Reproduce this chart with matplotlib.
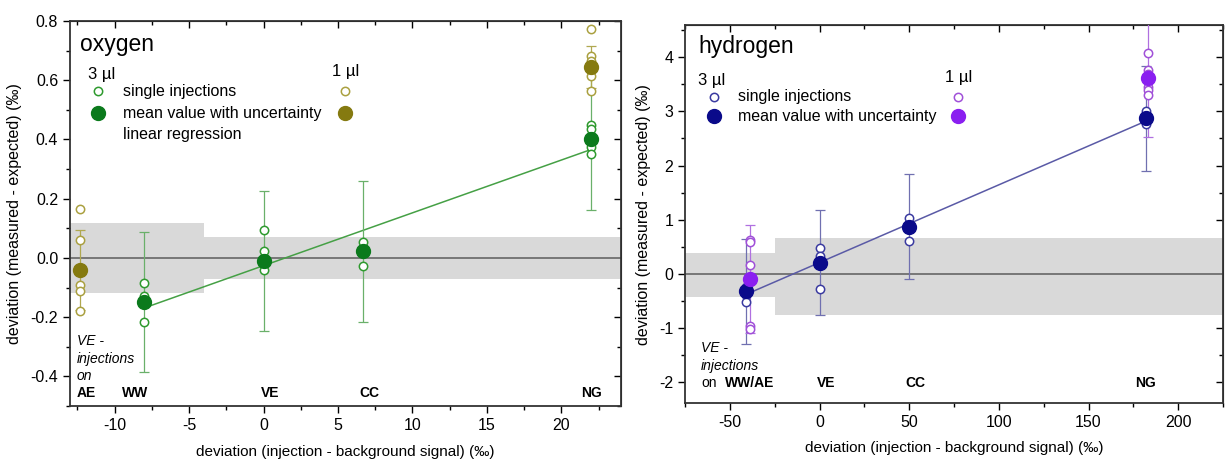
import matplotlib
matplotlib.use("Agg")
import matplotlib.pyplot as plt
import numpy as np
from matplotlib.ticker import MultipleLocator

plt.rcParams["font.family"] = ["Liberation Sans", "DejaVu Sans"]
plt.rcParams["axes.unicode_minus"] = False

# ── Data: oxygen ──────────────────────────────────────────────────────────────
o_x3 = [-8.0, 0.0, 6.7, 22.0]                       # WW, VE, CC, NG
o_single3 = [[-0.085, -0.13, -0.217],
             [0.095, 0.022, -0.04],
             [0.053, 0.02, -0.028],
             [0.449, 0.436, 0.374, 0.35]]
o_mean3 = [-0.148, -0.01, 0.022, 0.40]
o_err3 = [0.237, 0.237, 0.237, 0.237]

o_x1 = [-12.3, 22.0]                                # AE, NG
o_single1 = [[0.164, 0.06, -0.09, -0.11, -0.18],
             [0.774, 0.683, 0.666, 0.614, 0.564]]
o_mean1 = [-0.04, 0.644]
o_err1 = [0.135, 0.07]

o_reg_x = [-8.0, 22.0]
o_reg_slope, o_reg_icpt = 0.01783, -0.026

o_band_x = [-13, -4, -4, 24]
o_band_lo = [-0.117, -0.117, -0.071, -0.071]
o_band_hi = [0.117, 0.117, 0.071, 0.071]

o_cat = ["AE", "WW", "VE", "CC", "NG"]
o_cat_x = [-11.9, -8.6, 0.45, 7.1, 22.0]

# ── Data: hydrogen ────────────────────────────────────────────────────────────
h_x3 = [-41.0, 0.0, 50.0, 182.0]                    # WW/AE, VE, CC, NG
h_single3 = [[-0.25, -0.4, -0.52],
             [0.476, 0.328, 0.2, -0.277],
             [1.03, 0.605],
             [3.0, 2.77]]
h_mean3 = [-0.33, 0.2, 0.87, 2.87]
h_err3 = [0.97, 0.97, 0.97, 0.97]

h_x1 = [-39.0, 183.0]
h_single1 = [[0.62, 0.58, 0.155, -0.15, -0.97, -1.02],
             [4.08, 3.76, 3.70, 3.46, 3.40, 3.31]]
h_mean1 = [-0.1, 3.62]
h_err1 = [1.0, 1.1]

h_reg_x = [-41.0, 182.0]
h_reg_slope, h_reg_icpt = 0.01438, 0.205

h_band_x = [-75, -25, -25, 225]
h_band_lo = [-0.44, -0.44, -0.765, -0.765]
h_band_hi = [0.38, 0.38, 0.655, 0.655]

h_cat = ["WW/AE", "VE", "CC", "NG"]
h_cat_x = [-39.0, 3.7, 53.7, 182.0]

# ── Style ─────────────────────────────────────────────────────────────────────
GREEN_OPEN, GREEN_FILL, GREEN_ERR = "#2e9a2e", "#0b7a1c", "#6ab06a"
OLIVE_OPEN, OLIVE_FILL, OLIVE_ERR = "#aaa040", "#857a10", "#b0a850"
NAVY_OPEN, NAVY_FILL, NAVY_ERR = "#3a3aa0", "#0a0a8a", "#7070b0"
PURP_OPEN, PURP_FILL, PURP_ERR = "#a050d8", "#8a1ff0", "#b070e0"
BAND = "#d9d9d9"
XLABEL = "deviation (injection - background signal) (‰)"
YLABEL = "deviation (measured - expected) (‰)"
TICK_FS = 11.5
LEG_FS = 11.5


def draw_group(ax, xs, singles, means, errs, c_open, c_fill, c_err):
    for x, s, m, e in zip(xs, singles, means, errs):
        ax.errorbar([x], [m], yerr=[e], fmt="none", ecolor=c_err,
                    elinewidth=0.9, capsize=3.5, capthick=0.9, zorder=3)
        ax.plot([x] * len(s), s, "o", ms=6, mfc="white", mec=c_open,
                mew=1.1, zorder=4, clip_on=False)
        ax.plot([x], [m], "o", ms=10, color=c_fill, zorder=5)


def style_axes(ax, xmaj, xmin, ymaj, ymin):
    ax.xaxis.set_major_locator(MultipleLocator(xmaj))
    ax.xaxis.set_minor_locator(MultipleLocator(xmin))
    ax.yaxis.set_major_locator(MultipleLocator(ymaj))
    ax.yaxis.set_minor_locator(MultipleLocator(ymin))
    ax.tick_params(which="both", labelsize=TICK_FS, direction="out",
                   top=False, right=False)
    ax.tick_params(which="major", length=5, width=1)
    ax.tick_params(which="minor", length=3, width=1)
    top = ax.secondary_xaxis("top")
    top.xaxis.set_major_locator(MultipleLocator(xmaj))
    top.xaxis.set_minor_locator(MultipleLocator(xmin))
    top.tick_params(which="both", direction="in", labeltop=False)
    top.tick_params(which="major", length=5, width=1)
    top.tick_params(which="minor", length=3, width=1)
    right = ax.secondary_yaxis("right")
    right.yaxis.set_major_locator(MultipleLocator(ymaj))
    right.yaxis.set_minor_locator(MultipleLocator(ymin))
    right.tick_params(which="both", direction="in", labelright=False)
    right.tick_params(which="major", length=5, width=1)
    right.tick_params(which="minor", length=3, width=1)
    for sp in ax.spines.values():
        sp.set_linewidth(1.3)
        sp.set_color("#333333")


def legend_block(ax, title, title_xy, lab_xy, col3, col1, labels, c3, c1):
    ax.text(title_xy[0], title_xy[1], title, transform=ax.transAxes,
            fontsize=16.5, va="center", ha="left")
    ax.text(lab_xy[0], lab_xy[1], "3 µl", transform=ax.transAxes,
            fontsize=12, va="center", ha="left")
    ax.text(col1[0] - 0.024, lab_xy[1] + 0.008, "1 µl", transform=ax.transAxes,
            fontsize=12, va="center", ha="left")
    ys = [col3[1], col3[2]]
    for (cx, cols) in ((col3[0], c3), (col1[0], c1)):
        ax.plot([cx], [ys[0]], "o", ms=6, mfc="white", mec=cols[0], mew=1.1,
                transform=ax.transAxes, clip_on=False, zorder=6)
        ax.plot([cx], [ys[1]], "o", ms=10, color=cols[1],
                transform=ax.transAxes, clip_on=False, zorder=6)
    tx = col3[0] + 0.045
    for i, lab in enumerate(labels):
        ax.text(tx, ys[0] - i * (ys[0] - ys[1]), lab, transform=ax.transAxes,
                fontsize=LEG_FS, va="center", ha="left")


fig = plt.figure(figsize=(12.25, 4.61), dpi=100, facecolor="white")

# ── Oxygen panel ──────────────────────────────────────────────────────────────
ax = fig.add_axes([0.0571, 0.1193, 0.4498, 0.8351])
ax.fill_between(o_band_x, o_band_lo, o_band_hi, color=BAND, lw=0, zorder=1)
ax.axhline(0, color="#666666", lw=1.2, zorder=2)
xr = np.array(o_reg_x)
ax.plot(xr, o_reg_slope * xr + o_reg_icpt, color="#45a045", lw=1.1, zorder=3)
draw_group(ax, o_x3, o_single3, o_mean3, o_err3, GREEN_OPEN, GREEN_FILL, GREEN_ERR)
draw_group(ax, o_x1, o_single1, o_mean1, o_err1, OLIVE_OPEN, OLIVE_FILL, OLIVE_ERR)
ax.set_xlim(-13, 24)
ax.set_ylim(-0.5, 0.8)
style_axes(ax, 5, 2.5, 0.2, 0.1)
ax.yaxis.set_major_formatter(lambda v, p: f"{v:.1f}")
ax.set_xlabel(XLABEL, fontsize=11, labelpad=9)
ax.set_ylabel(YLABEL, fontsize=11.5, labelpad=6)
for lab, x in zip(o_cat, o_cat_x):
    ax.text(x, -0.455, lab, fontsize=10, fontweight="bold", ha="center", va="center")
for txt, y in zip(["VE -", "injections", "on"], [-0.281, -0.341, -0.397]):
    ax.text(-12.55, y, txt, fontsize=10, style="italic", ha="left", va="center")
legend_block(ax, "oxygen", (0.018, 0.938), (0.033, 0.862),
             (0.051, 0.818, 0.761), (0.499,),
             ["single injections", "mean value with uncertainty", "linear regression"],
             (GREEN_OPEN, GREEN_FILL), (OLIVE_OPEN, OLIVE_FILL))

# ── Hydrogen panel ────────────────────────────────────────────────────────────
bx = fig.add_axes([0.5592, 0.1251, 0.4392, 0.8207])
bx.fill_between(h_band_x, h_band_lo, h_band_hi, color=BAND, lw=0, zorder=1)
bx.axhline(0, color="#666666", lw=1.2, zorder=2)
xr = np.array(h_reg_x)
bx.plot(xr, h_reg_slope * xr + h_reg_icpt, color="#5a5aa6", lw=1.1, zorder=3)
draw_group(bx, h_x3, h_single3, h_mean3, h_err3, NAVY_OPEN, NAVY_FILL, NAVY_ERR)
draw_group(bx, h_x1, h_single1, h_mean1, h_err1, PURP_OPEN, PURP_FILL, PURP_ERR)
bx.set_xlim(-75, 225)
bx.set_ylim(-2.4, 4.6)
style_axes(bx, 50, 25, 1, 0.5)
bx.set_xlabel(XLABEL, fontsize=11, labelpad=8)
bx.set_ylabel(YLABEL, fontsize=11.5, labelpad=6)
for lab, x in zip(h_cat, h_cat_x):
    bx.text(x, -2.02, lab, fontsize=10, fontweight="bold", ha="center", va="center")
bx.text(-66, -1.376, "VE -", fontsize=10, style="italic", ha="left", va="center")
bx.text(-66, -1.71, "injections", fontsize=10, style="italic", ha="left", va="center")
bx.text(-66, -2.02, "on", fontsize=10, ha="left", va="center")
legend_block(bx, "hydrogen", (0.024, 0.942), (0.024, 0.854),
             (0.054, 0.810, 0.759), (0.507,),
             ["single injections", "mean value with uncertainty"],
             (NAVY_OPEN, NAVY_FILL), (PURP_OPEN, PURP_FILL))

fig.savefig("out.png", dpi=100, facecolor="white")
